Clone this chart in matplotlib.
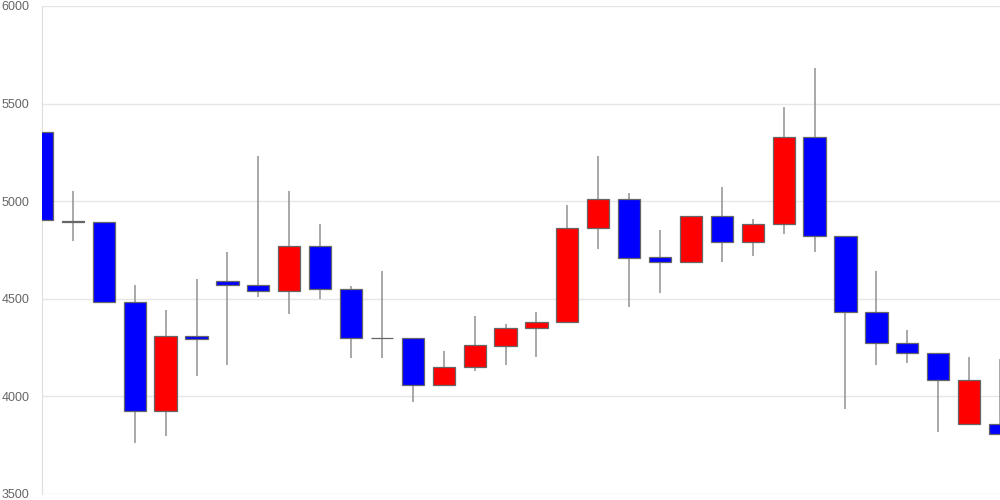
import matplotlib
matplotlib.use("Agg")
import matplotlib.pyplot as plt
import numpy as np

# daily OHLC
opens = [5355, 4900, 4893, 4484, 3925, 4309, 4591, 4571, 4540, 4770,
         4550, 4300, 4300, 4060, 4150, 4260, 4350, 4380, 4863, 5010,
         4712, 4690, 4923, 4790, 4882, 5330, 4822, 4431, 4272, 4221,
         3860, 3860]
highs = [5355, 5052, 4893, 4571, 4443, 4601, 4740, 5232, 5052, 4883,
         4565, 4642, 4300, 4233, 4412, 4371, 4432, 4980, 5232, 5040,
         4852, 4923, 5071, 4910, 5481, 5681, 4822, 4642, 4340, 4221,
         4200, 4190]
lows = [4852, 4796, 4480, 3761, 3797, 4104, 4161, 4509, 4422, 4499,
        4197, 4197, 3971, 4060, 4132, 4161, 4200, 4380, 4755, 4459,
        4531, 4690, 4690, 4721, 4830, 4741, 3934, 4161, 4169, 3819,
        3860, 3809]
closes = [4904, 4893, 4484, 3925, 4309, 4295, 4571, 4540, 4770, 4550,
          4299, 4300, 4060, 4151, 4262, 4352, 4381, 4863, 5010, 4710,
          4690, 4923, 4789, 4882, 5330, 4822, 4431, 4272, 4221, 4082,
          4082, 3809]
yticks = [3500, 4000, 4500, 5000, 5500, 6000]

plt.rcParams['font.family'] = ['Liberation Sans', 'DejaVu Sans']

o = np.array(opens)
c = np.array(closes)
x = np.arange(len(o))
colors = np.where(c > o, "#ff0000", "#0000ff")

fig = plt.figure(figsize=(10, 5), dpi=100)
ax = fig.add_axes([0.042, 0.012, 0.958, 0.976])

ax.vlines(x, lows, highs, color="#999999", linewidth=1.2, zorder=2)
ax.bar(x, np.abs(c - o), bottom=np.minimum(o, c), width=0.72,
       color=colors, edgecolor="#666666", linewidth=0.9, zorder=3)

ax.set_xlim(0, len(o) - 1)
ax.set_ylim(3500, 6000)
ax.set_yticks(yticks)
ax.set_xticks([])
ax.grid(axis="y", color="#e6e6e6", linewidth=1)
ax.set_axisbelow(True)
for s in ["top", "right", "bottom"]:
    ax.spines[s].set_visible(False)
ax.spines["left"].set_color("#dddddd")
ax.tick_params(axis="y", length=0, labelcolor="#666666", labelsize=9, pad=9)

fig.savefig("out.png")
